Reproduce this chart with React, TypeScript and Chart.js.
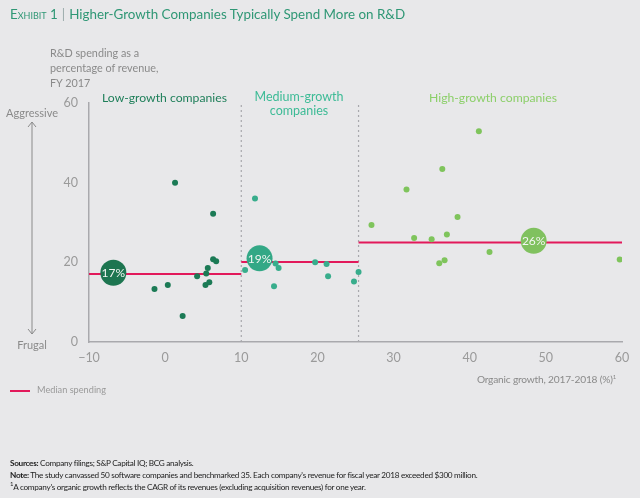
import React, { useEffect, useRef } from "react";
import { Chart, registerables } from "chart.js";

Chart.register(...registerables);

const xTicks = [-10, 0, 10, 20, 30, 40, 50, 60];
const yTicks = [0, 20, 40, 60];

const lowGrowth = [
  { x: 1.3, y: 40.0 }, { x: -1.4, y: 13.3 }, { x: 0.35, y: 14.3 }, { x: 2.3, y: 6.5 },
  { x: 4.2, y: 16.5 }, { x: 6.3, y: 32.2 }, { x: 5.6, y: 18.6 }, { x: 5.4, y: 17.2 },
  { x: 5.3, y: 14.3 }, { x: 5.8, y: 15.0 }, { x: 6.3, y: 20.8 }, { x: 6.7, y: 20.3 },
];
const mediumGrowth = [
  { x: 10.5, y: 18.1 }, { x: 11.8, y: 36.0 }, { x: 14.5, y: 19.7 }, { x: 14.9, y: 18.6 },
  { x: 14.3, y: 14.0 }, { x: 19.7, y: 20.0 }, { x: 21.2, y: 19.6 }, { x: 21.4, y: 16.5 },
  { x: 24.8, y: 15.2 }, { x: 25.4, y: 17.6 },
];
const highGrowth = [
  { x: 27.1, y: 29.4 }, { x: 41.2, y: 52.9 }, { x: 36.4, y: 43.4 }, { x: 31.7, y: 38.3 },
  { x: 38.4, y: 31.4 }, { x: 32.7, y: 26.1 }, { x: 35.0, y: 25.8 }, { x: 37.0, y: 27.0 },
  { x: 42.6, y: 22.6 }, { x: 36.0, y: 19.8 }, { x: 36.7, y: 20.5 }, { x: 59.7, y: 20.7 },
];
// group boundaries on the growth axis
const boundaries = [10, 25.4];
// median segments [xStart, xEnd, median]
const medianSegments = [
  [-10, 10, 17.1],
  [10, 25.4, 20.1],
  [25.4, 60, 25.0],
];
// median bubbles
const medianBubbles = [
  { x: -6.8, y: 17.4, label: "17%" },
  { x: 12.4, y: 21.0, label: "19%" },
  { x: 48.4, y: 25.4, label: "26%" },
];
const groupColors = ["#1b7a55", "#38ad8c", "#7fc45c"];
const bubbleColors = ["#1d7550", "#33a886", "#80c15f"];
const PINK = "#e2195b";
const FONT = "Lato, 'Open Sans', sans-serif";

export default function App() {
  const ref = useRef<HTMLCanvasElement | null>(null);

  useEffect(() => {
    if (!ref.current) return;
    const datasets: any[] = [];
    medianSegments.forEach((s) => {
      datasets.push({
        data: [{ x: s[0], y: s[2] }, { x: s[1], y: s[2] }],
        showLine: true,
        borderColor: PINK,
        borderWidth: 2,
        pointRadius: 0,
        order: 5,
      });
    });
    boundaries.forEach((b) => {
      datasets.push({
        data: [{ x: b, y: 0 }, { x: b, y: 60 }],
        showLine: true,
        borderColor: "#a8a8ac",
        borderWidth: 1.2,
        borderDash: [2, 3],
        pointRadius: 0,
        order: 6,
      });
    });
    [lowGrowth, mediumGrowth, highGrowth].forEach((d, i) => {
      datasets.push({
        data: d,
        backgroundColor: groupColors[i],
        borderColor: groupColors[i],
        pointRadius: 3,
        borderWidth: 0,
        order: 3,
      });
    });
    datasets.push({
      data: medianBubbles.map((b) => ({ x: b.x, y: b.y })),
      backgroundColor: bubbleColors,
      borderColor: bubbleColors,
      pointRadius: 13,
      borderWidth: 0,
      order: 1,
      isBubble: true,
    });

    const bubbleLabels = {
      id: "bubbleLabels",
      afterDatasetsDraw(chart: any) {
        const idx = chart.data.datasets.findIndex((d: any) => d.isBubble);
        const meta = chart.getDatasetMeta(idx);
        const ctx = chart.ctx;
        ctx.save();
        ctx.fillStyle = "#f2f6f2";
        ctx.font = `12px ${FONT}`;
        ctx.textAlign = "center";
        ctx.textBaseline = "middle";
        meta.data.forEach((el: any, i: number) => {
          ctx.fillText(medianBubbles[i].label, el.x, el.y + 0.5);
        });
        ctx.restore();
      },
    };

    const chart = new Chart(ref.current, {
      type: "scatter",
      data: { datasets },
      plugins: [bubbleLabels],
      options: {
        animation: false,
        responsive: false,
        layout: { padding: { left: 0, right: 18, top: 103, bottom: 126 } },
        plugins: { legend: { display: false }, tooltip: { enabled: false } },
        scales: {
          x: {
            type: "linear",
            min: -10,
            max: 60,
            afterBuildTicks: (axis: any) => {
              axis.ticks = xTicks.map((v) => ({ value: v }));
            },
            afterFit: (axis: any) => {
              axis.height = 30;
            },
            grid: { display: false, drawTicks: false },
            border: { display: true, color: "#a9a9ad", width: 1.5 },
            ticks: {
              color: "#9a9a9a",
              font: { size: 12.5, family: FONT },
              padding: 8,
              callback: (v: any) => (Number(v) < 0 ? "\u2212" + Math.abs(Number(v)) : String(v)),
            },
          },
          y: {
            type: "linear",
            min: 0,
            max: 60,
            afterBuildTicks: (axis: any) => {
              axis.ticks = yTicks.map((v) => ({ value: v }));
            },
            afterFit: (axis: any) => {
              axis.width = 89;
            },
            grid: { display: false, drawTicks: false },
            border: { display: true, color: "#a9a9ad", width: 1.5 },
            ticks: {
              color: "#9a9a9a",
              font: { size: 12.5, family: FONT },
              padding: 11,
            },
          },
        },
      },
    } as any);
    return () => chart.destroy();
  }, []);

  const abs = (s: React.CSSProperties): React.CSSProperties => ({ position: "absolute", ...s });
  const supStyle: React.CSSProperties = { fontSize: 6, lineHeight: 0, verticalAlign: "super" };

  return (
    <div
      style={{
        position: "absolute",
        left: 0,
        top: 0,
        width: 640,
        height: 498,
        background: "#e8e8ea",
        fontFamily: FONT,
        overflow: "hidden",
      }}
    >
      <canvas ref={ref} width={640} height={498} style={abs({ left: 0, top: 0, width: 640, height: 498 })} />
      <div style={abs({ left: 10, top: 6, fontSize: 13.4, color: "#2f9775", whiteSpace: "nowrap" })}>
        <span style={{ fontVariant: "small-caps" }}>Exhibit 1</span>
        <span style={{ color: "#9aa", margin: "0 4px" }}>|</span>
        Higher-Growth Companies Typically Spend More on R&amp;D
      </div>
      <div style={abs({ left: 50, top: 45, fontSize: 10.8, color: "#8a8a8a", lineHeight: "15px" })}>
        R&amp;D spending as a<br />percentage of revenue,<br />FY 2017
      </div>
      <div style={abs({ left: 0, width: 64, top: 106, fontSize: 11, color: "#8a8a8a", textAlign: "center" })}>Aggressive</div>
      <div style={abs({ left: 0, width: 64, top: 338, fontSize: 11, color: "#8a8a8a", textAlign: "center" })}>Frugal</div>
      <svg width={20} height={220} style={abs({ left: 22, top: 120 })}>
        <line x1={10} y1={2} x2={10} y2={214} stroke="#8a8a8a" strokeWidth={1} />
        <polyline points="6,7 10,2 14,7" fill="none" stroke="#8a8a8a" strokeWidth={1} />
        <polyline points="6,209 10,214 14,209" fill="none" stroke="#8a8a8a" strokeWidth={1} />
      </svg>
      <div style={abs({ left: 89, width: 151, top: 90, fontSize: 12.2, color: "#1f7f5a", textAlign: "center" })}>Low-growth companies</div>
      <div style={abs({ left: 240, width: 118, top: 90, fontSize: 12.5, color: "#3dbb96", textAlign: "center", lineHeight: "14px" })}>
        Medium-growth<br />companies
      </div>
      <div style={abs({ left: 358, width: 270, top: 90, fontSize: 12.2, color: "#8ccf6a", textAlign: "center" })}>High-growth companies</div>
      <div style={abs({ right: 24, top: 373, fontSize: 10.2, letterSpacing: -0.2, color: "#8a8a8a", whiteSpace: "nowrap" })}>
        Organic growth, 2017-2018 (%)<span style={supStyle}>1</span>
      </div>
      <div style={abs({ left: 10, top: 390, width: 20, height: 2, background: PINK })} />
      <div style={abs({ left: 37, top: 384, fontSize: 9.2, color: "#9a9a9a" })}>Median spending</div>
      <div style={abs({ left: 10, top: 457, fontSize: 8.2, letterSpacing: -0.3, color: "#222", lineHeight: "12px", whiteSpace: "nowrap" })}>
        <div><b>Sources:</b> Company filings; S&amp;P Capital IQ; BCG analysis.</div>
        <div><b>Note:</b> The study canvassed 50 software companies and benchmarked 35. Each company's revenue for fiscal year 2018 exceeded $300 million.</div>
        <div><span style={supStyle}>1</span>A company's organic growth reflects the CAGR of its revenues (excluding acquisition revenues) for one year.</div>
      </div>
    </div>
  );
}
